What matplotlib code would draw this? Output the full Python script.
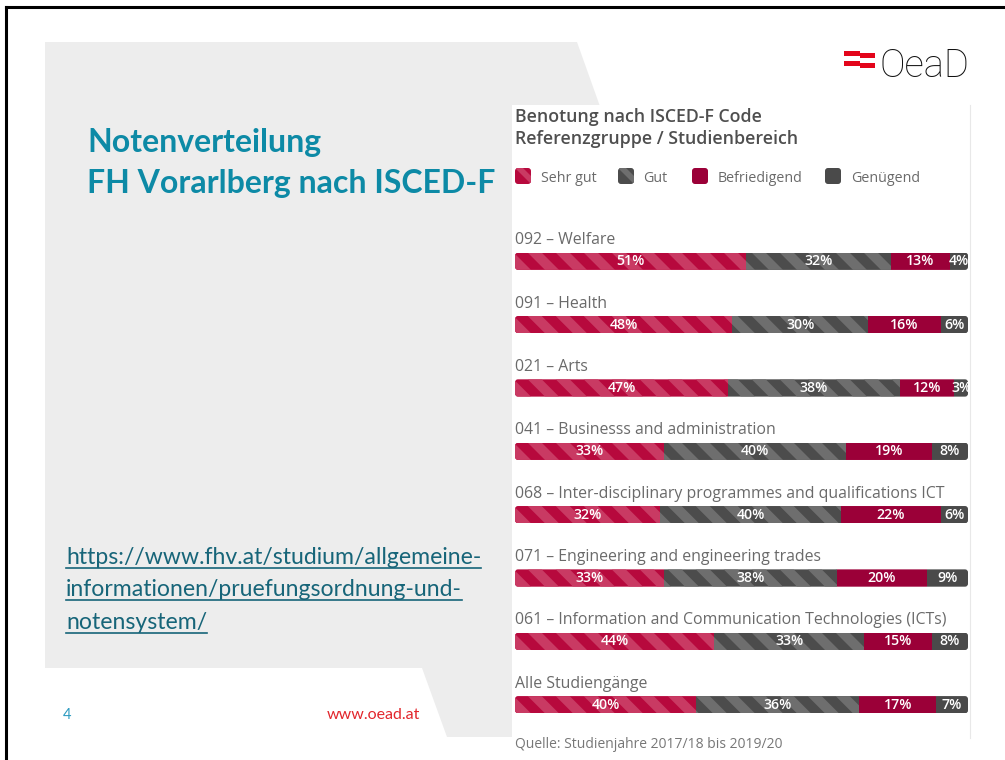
import numpy as np
import matplotlib
matplotlib.use('Agg')
import matplotlib.pyplot as plt
from matplotlib.patches import FancyBboxPatch, Polygon, Rectangle
from matplotlib.collections import PolyCollection
from matplotlib.transforms import Bbox, TransformedBbox

plt.rcParams['font.family'] = ['Open Sans', 'DejaVu Sans']

# daten (Benotung nach ISCED-F Code, Anteile in %)
kategorien = ['092 – Welfare',
              '091 – Health',
              '021 – Arts',
              '041 – Businesss and administration',
              '068 – Inter-disciplinary programmes and qualifications ICT',
              '071 – Engineering and engineering trades',
              '061 – Information and Communication Technologies (ICTs)',
              'Alle Studiengänge']
sehr_gut = [51, 48, 47, 33, 32, 33, 44, 40]
gut = [32, 30, 38, 40, 40, 38, 33, 36]
befriedigend = [13, 16, 12, 19, 22, 20, 15, 17]
genuegend = [4, 6, 3, 8, 6, 9, 8, 7]
noten = ['Sehr gut', 'Gut', 'Befriedigend', 'Genügend']

# (grundfarbe, streifenfarbe)
farben = [('#b7093d', '#c93a63'),
          ('#4c4c4c', '#6e6e6e'),
          ('#9b0038', None),
          ('#4a4a4a', None)]

W, H = 1005, 760
fig = plt.figure(figsize=(W / 100, H / 100), dpi=100)

# --- Folie im Hintergrund (Pixelkoordinaten) ---
bg = fig.add_axes([0, 0, 1, 1], zorder=0)
bg.set_xlim(0, W)
bg.set_ylim(H, 0)
bg.axis('off')

bg.add_patch(Polygon([(45, 42), (577, 42), (612, 140), (612, 737), (447, 737),
                      (422, 668), (45, 668)], closed=True, fc='#ededed', ec='none'))
bg.add_patch(Rectangle((512, 105), 458, 632, fc='white', ec='none'))
bg.plot([970, 970], [105, 738], color='#e8e8e8', lw=0.8)
bg.plot([5.5, 5.5], [H, 6.5], color='black', lw=2.2, solid_capstyle='projecting')
bg.plot([5.5, W], [6.5, 6.5], color='black', lw=2.2, solid_capstyle='projecting')

# Logo
bg.add_patch(Polygon([(844, 51), (860, 51), (860, 53), (875, 53), (875, 58),
                      (860, 58), (860, 56), (844, 56)], fc='#e3051b', ec='none'))
bg.add_patch(Polygon([(844, 61), (860, 61), (860, 63), (875, 63), (875, 68),
                      (860, 68), (860, 66), (844, 66)], fc='#e3051b', ec='none'))
bg.text(880, 77, 'OeaD', fontsize=27.5, family='Roboto', weight='light',
        color='#111111', va='baseline', ha='left')

titel_farbe = '#0d8aa6'
bg.text(87, 152, 'Notenverteilung', fontsize=23, family='Lato', weight='bold',
        color=titel_farbe, va='baseline')
bg.text(87, 193, 'FH Vorarlberg nach ISCED-F', fontsize=23, family='Lato',
        weight='bold', color=titel_farbe, va='baseline')

link_zeilen = ['https://www.fhv.at/studium/allgemeine-',
               'informationen/pruefungsordnung-und-',
               'notensystem/']
link_texte = []
for k, z in enumerate(link_zeilen):
    t = bg.text(66, 564 + 32.5 * k, z, fontsize=16.6, family='Lato', color='#176579',
                va='baseline')
    link_texte.append(t)

bg.text(63, 719, '4', fontsize=10.5, family='Lato', color='#2b9ac0', va='baseline')
bg.text(327, 719, 'www.oead.at', fontsize=11.5, family='Lato', color='#e2262c',
        va='baseline')

# Diagramm-Titel und Legende
bg.text(515, 121.5, 'Benotung nach ISCED-F Code', fontsize=12.8, weight='semibold',
        color='#4f4f4f', va='baseline')
bg.text(515, 144, 'Referenzgruppe / Studienbereich', fontsize=12.8, weight='semibold',
        color='#4f4f4f', va='baseline')

leg_x = [515, 618, 692, 825]
txt_x = [541, 643, 718, 851]
for (dunkel, hell), nx, tx, name in zip(farben, leg_x, txt_x, noten):
    box = FancyBboxPatch((nx, 168), 16, 16, boxstyle='round,pad=0,rounding_size=3',
                         fc=dunkel, ec='none')
    bg.add_patch(box)
    if hell is not None:
        tri = Polygon([(nx, 168), (nx + 8, 168), (nx + 16, 176), (nx + 16, 184)],
                      fc=hell, ec='none')
        bg.add_patch(tri)
        tri.set_clip_path(box)
    bg.text(tx, 181.5, name, fontsize=10.3, color='#6a6a6a', va='baseline')

bg.text(515, 747.5, 'Quelle: Studienjahre 2017/18 bis 2019/20', fontsize=10,
        color='#777777', va='baseline')

# --- Balkendiagramm ---
ax_l, ax_r, ax_t, ax_b = 515, 968, 229.6, 736.4
ax = fig.add_axes([ax_l / W, (H - ax_b) / H, (ax_r - ax_l) / W, (ax_b - ax_t) / H],
                  zorder=2)
ax.patch.set_alpha(0)
n = len(kategorien)
ax.set_xlim(0, 100)
ax.set_ylim(-0.5, n - 0.5)
ax.axis('off')

sx = (ax_r - ax_l) / 100.0          # px pro Prozent
sy = (ax_b - ax_t) / n              # px pro Zeile
h = 17.3 / sy
ypos = np.arange(n)[::-1]

umrisse = []
for y in ypos:
    u = FancyBboxPatch((0, y - h / 2), 100, h,
                       boxstyle='round,pad=0,rounding_size=%.3f' % (3.0 / sx),
                       mutation_aspect=sx / sy, fc='none', ec='none', lw=0)
    ax.add_patch(u)
    umrisse.append(u)

werte = [sehr_gut, gut, befriedigend, genuegend]
links = np.zeros(n)
periode = 28.0 / sx
breite = 14.0 / sx
schub = h * sy / sx
for (dunkel, hell), w in zip(farben, werte):
    w = np.array(w, dtype=float)
    bars = ax.barh(ypos, w, left=links, height=h, color=dunkel, lw=0)
    for b, u in zip(bars, umrisse):
        b.set_clip_path(u)
    if hell is not None:
        for i, y in enumerate(ypos):
            y0, y1 = y - h / 2, y + h / 2
            polys = []
            for a in np.arange(-schub - periode + 2.0 / sx, 100 + periode, periode):
                polys.append([(a, y1), (a + breite, y1), (a + breite + schub, y0),
                              (a + schub, y0)])
            pc = PolyCollection(polys, facecolors=hell, edgecolors='none', lw=0)
            ax.add_collection(pc)
            pc.set_clip_path(umrisse[i])
            pc.set_clip_box(TransformedBbox(
                Bbox([[links[i], y0], [links[i] + w[i], y1]]), ax.transData))
    for i, y in enumerate(ypos):
        ax.text(links[i] + w[i] / 2, y, '{}%'.format(int(w[i])), ha='center',
                va='center', color='white', fontsize=10.2, weight='semibold',
                clip_on=True)
    links = links + w

for y, kat in zip(ypos, kategorien):
    ax.text(0, y + 17.0 / sy, kat, ha='left', va='baseline', fontsize=11.4,
            color='#6a6a6a', clip_on=False)

# Unterstreichung der Links
fig.canvas.draw()
inv = bg.transData.inverted()
for t in link_texte:
    ext = t.get_window_extent()
    (x0, _), (x1, _) = inv.transform([[ext.x0, ext.y0], [ext.x1, ext.y0]])
    _, yb = inv.transform(t.get_transform().transform(t.get_position()))
    bg.plot([x0, x1], [yb + 3.5, yb + 3.5], color='#176579', lw=1.2)

fig.savefig('out.png', dpi=100)
